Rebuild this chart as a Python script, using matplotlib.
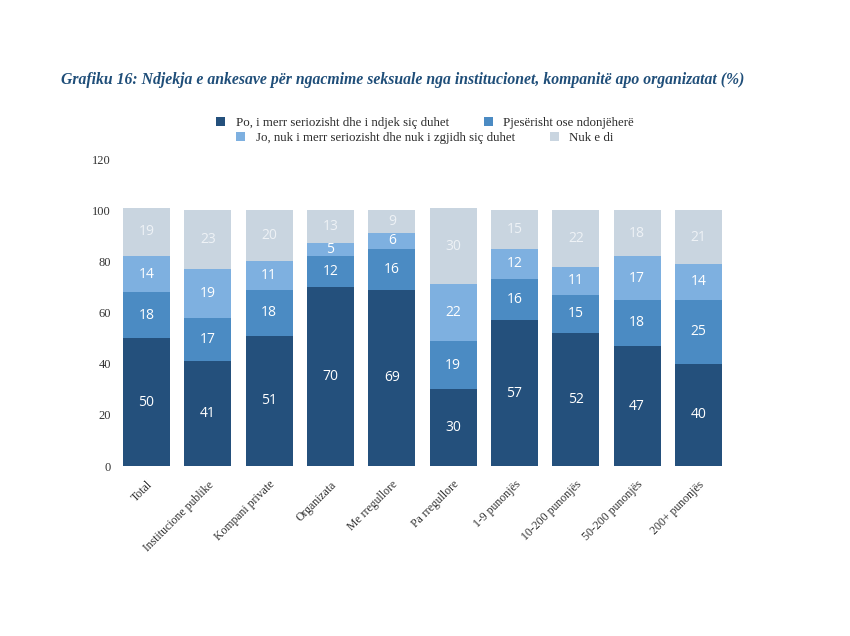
import matplotlib
matplotlib.use("Agg")
import matplotlib.pyplot as plt
import numpy as np

categories = ["Total", "Institucione publike", "Kompani private", "Organizata",
              "Me rregullore", "Pa rregullore", "1-9 punonjës", "10-200 punonjës",
              "50-200 punonjës", "200+ punonjës"]
po = [50, 41, 51, 70, 69, 30, 57, 52, 47, 40]
pjeserisht = [18, 17, 18, 12, 16, 19, 16, 15, 18, 25]
jo = [14, 19, 11, 5, 6, 22, 12, 11, 17, 14]
nuk_e_di = [19, 23, 20, 13, 9, 30, 15, 22, 18, 21]
series_names = ["Po, i merr seriozisht dhe i ndjek siç duhet",
                "Pjesërisht ose ndonjëherë",
                "Jo, nuk i merr seriozisht dhe nuk i zgjidh siç duhet",
                "Nuk e di"]
yticks = [0, 20, 40, 60, 80, 100, 120]

colors = ["#24507c", "#4b8bc3", "#7eb0e0", "#c9d5e0"]
text_colors = ["white", "white", "white", "#eef2f6"]

fig = plt.figure(figsize=(8.5, 6.36), dpi=100)
ax = fig.add_axes([0.129, 0.267, 0.736, 0.483])

x = np.arange(len(categories))
bottom = np.zeros(len(categories))
handles = []
for vals, col, tcol, name in zip([po, pjeserisht, jo, nuk_e_di], colors, text_colors, series_names):
    vals = np.array(vals, dtype=float)
    bars = ax.bar(x, vals, 0.77, bottom=bottom, color=col, label=name)
    handles.append(bars)
    for xi, b, v in zip(x, bottom, vals):
        ax.text(xi, b + v / 2, f"{int(v)}", ha="center", va="center",
                color=tcol, fontsize=10, family="Open Sans")
    bottom += vals

ax.set_ylim(0, 120)
ax.set_xlim(-0.6, len(categories) - 0.4)
ax.set_yticks(yticks)
ax.set_yticklabels([str(t) for t in yticks], family="Liberation Serif", fontsize=9, color="#333333")
ax.set_xticks(x)
ax.set_xticklabels(categories, rotation=45, ha="right", rotation_mode="anchor",
                   family="Liberation Serif", fontsize=8.5, color="#333333")
ax.tick_params(axis="y", length=0, pad=-1)
ax.tick_params(axis="x", length=0, pad=9)
for s in ax.spines.values():
    s.set_visible(False)

fig.text(0.072, 0.874,
         "Grafiku 16: Ndjekja e ankesave për ngacmime seksuale nga institucionet, kompanitë apo organizatat (%)",
         family="Liberation Serif", fontsize=11.3, fontweight="bold", fontstyle="italic",
         color="#1f4e79", ha="left", va="center")

leg_kw = dict(loc="center", ncol=2, frameon=False,
              prop={"family": "Liberation Serif", "size": 9.3}, handlelength=0.7,
              handleheight=0.7, columnspacing=2.7, handletextpad=0.8)
leg1 = fig.legend([handles[0], handles[1]], [series_names[0], series_names[1]],
                  bbox_to_anchor=(0.5, 0.806), **leg_kw)
leg2 = fig.legend([handles[2], handles[3]], [series_names[2], series_names[3]],
                  bbox_to_anchor=(0.5, 0.783), **leg_kw)
for leg in (leg1, leg2):
    for t in leg.get_texts():
        t.set_color("#2a2a2a")

fig.savefig("out.png", dpi=100)
